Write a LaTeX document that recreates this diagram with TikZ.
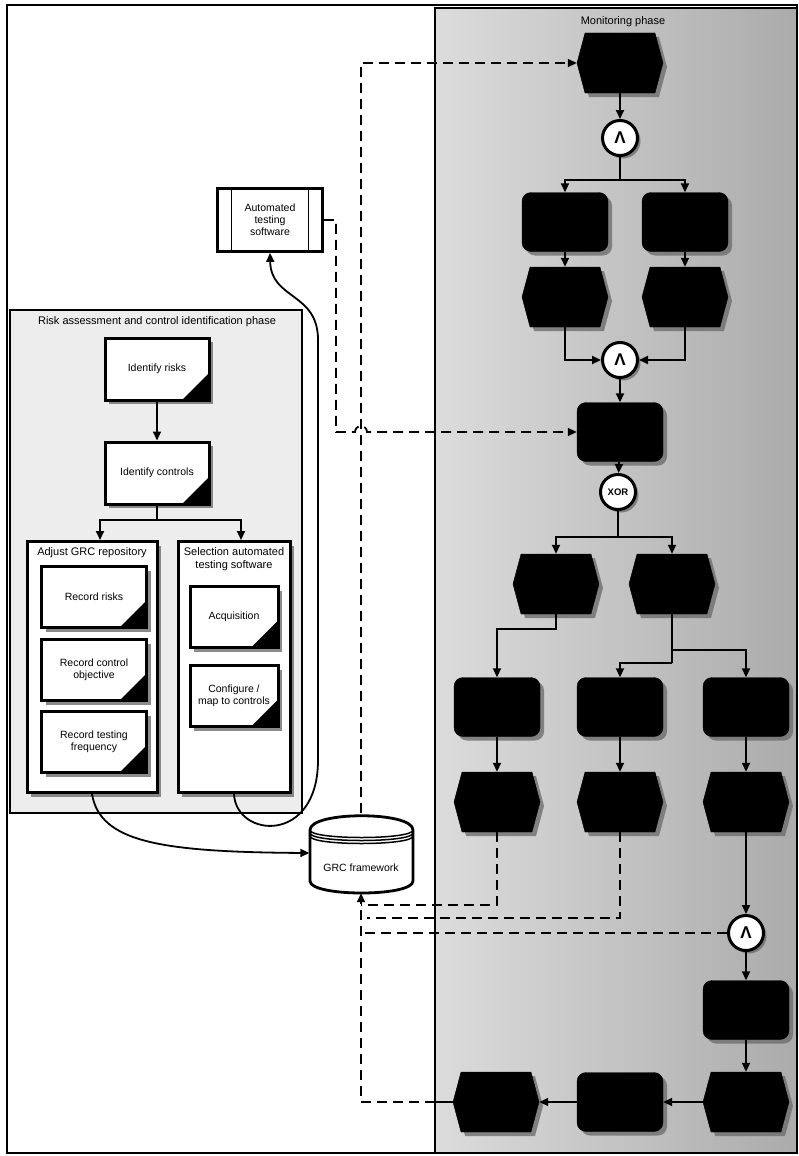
\documentclass[tikz,border=0pt]{standalone}
\usepackage{fontspec}
\setmainfont{Liberation Sans}
\usetikzlibrary{arrows.meta,shapes.symbols,shadows}
\definecolor{EpcInk}{HTML}{000000}
\definecolor{EpcShade}{HTML}{6E6E6E}
\definecolor{EpcPaper}{HTML}{FFFFFF}
\definecolor{EpcLight}{HTML}{EDEDED}
\definecolor{EpcField}{HTML}{DCDCDC}
\definecolor{EpcFieldDark}{HTML}{ABABAB}
\tikzset{
  every node/.style={font=\fontsize{10.5}{12}\selectfont, text=EpcInk, inner sep=1pt},
  frame/.style={draw=EpcInk, line width=2pt},
  phasetitle/.style={font=\fontsize{11}{13}\selectfont},
  boxtitle/.style={font=\fontsize{11}{12.5}\selectfont, align=center},
  container/.style={draw=EpcInk, line width=3pt, fill=EpcPaper,
    drop shadow={shadow xshift=4pt, shadow yshift=-4pt, fill=EpcShade, opacity=0.8}},
  task/.style={container, align=center,
    path picture={\fill[EpcInk] (path picture bounding box.south east) -- ++(-27pt,0pt) -- ++(27pt,27pt) -- cycle;}},
  software/.style={draw=EpcInk, line width=2.8pt, fill=EpcPaper, align=center,
    path picture={
      \draw[EpcInk, line width=1.8pt] ([xshift=14pt]path picture bounding box.north west) -- ([xshift=14pt]path picture bounding box.south west);
      \draw[EpcInk, line width=1.8pt] ([xshift=-14pt]path picture bounding box.north east) -- ([xshift=-14pt]path picture bounding box.south east);}},
  dbline/.style={draw=EpcInk, line width=2.8pt},
  event/.style={shape=signal, signal to=east and west, signal pointer angle=150,
    draw=EpcInk, fill=EpcInk, minimum width=86pt, minimum height=60pt,
    drop shadow={shadow xshift=4pt, shadow yshift=-4pt, fill=EpcShade, opacity=0.8}},
  func/.style={rectangle, rounded corners=9pt, draw=EpcInk, fill=EpcInk,
    minimum width=86pt, minimum height=59pt,
    drop shadow={shadow xshift=4pt, shadow yshift=-4pt, fill=EpcShade, opacity=0.8}},
  gate/.style={circle, draw=EpcInk, line width=3pt, fill=EpcPaper, minimum size=35pt, inner sep=0pt,
    drop shadow={shadow xshift=3pt, shadow yshift=-3pt, fill=EpcShade, opacity=0.8}},
  link/.style={draw=EpcInk, line width=1.8pt},
  flow/.style={link, -{Triangle[length=9pt,width=8pt]}},
  data/.style={flow, dash pattern=on 10pt off 6pt},
}
\begin{document}
\begin{tikzpicture}[x=1pt, y=-1pt]
  \useasboundingbox (0,0) rectangle (799,1156);
  % Phases
  \draw[frame] (7,5) rectangle (797,1153);
  \shade[left color=EpcField, right color=EpcFieldDark] (435,8) rectangle (797,1153);
  \draw[frame] (435,8) rectangle (797,1153);
  \node[phasetitle] (montitle) at (623,22) {Monitoring phase};
  \draw[frame, fill=EpcLight] (10,310) rectangle (302,813);
  \node[phasetitle] (risktitle) at (157,322) {Risk assessment and control identification phase};

  % Risk assessment and control identification
  \node[task, minimum width=104pt, minimum height=62pt] (idrisk) at (157,369) {Identify risks};
  \node[task, minimum width=104pt, minimum height=62pt] (idctrl) at (157,473) {Identify controls};
  \node[container, minimum width=130pt, minimum height=251pt] (adjust) at (92,667) {};
  \node[container, minimum width=112pt, minimum height=251pt] (select) at (234,667) {};
  \node[boxtitle] (adjusttitle) at (92,553) {Adjust GRC repository};
  \node[boxtitle] (selecttitle) at (234,559) {Selection automated\\testing software};
  \foreach \name/\x/\y/\w/\txt in {recrisk/94/597/105/{Record risks},
      recobj/94/670/105/{Record control\\objective}, recfreq/94/742/105/{Record testing\\frequency},
      acq/234/617/88/{Acquisition}, conf/234/696/88/{Configure /\\map to controls}}
    \node[task, minimum width=\w pt, minimum height=61pt] (\name) at (\x,\y) {\txt};
  \draw[flow] (idrisk) -- (idctrl);
  \coordinate (ctrlsplit) at (157,520);
  \draw[link] (idctrl) -- (ctrlsplit);
  \draw[flow] (ctrlsplit) -| ([xshift=8pt]adjust.north);
  \draw[flow] (ctrlsplit) -| ([xshift=7pt]select.north);

  % Software and repository
  \node[software, minimum width=105pt, minimum height=63pt] (autosw) at (270,220) {Automated\\testing\\software};
  \node[minimum width=103pt, minimum height=80pt] (grc) at (361,853) {};
  \draw[dbline, fill=EpcPaper] (310,830) .. controls (310,811) and (413,811) .. (413,830)
    -- (413,881) .. controls (413,897) and (310,897) .. (310,881) -- cycle;
  \foreach \d in {0,3,6}
    \draw[EpcInk, line width=1.5pt] (310,830+\d) .. controls (310,840+\d) and (413,840+\d) .. (413,830+\d);
  \node (grctext) at (361,868) {GRC framework};
  \draw[flow] (adjust.south) .. controls (100,842) and (160,852) .. (grc.west);
  \draw[flow] (select.south) .. controls (236,838) and (318,845) .. (318,760)
    -- (318,340) .. controls (318,292) and (271,300) .. (autosw.south);

  % Monitoring
  \foreach \name/\x/\y in {ev1/620/63, ev2a/565/297, ev2b/685/297, ev3a/556/584, ev3b/672/584,
      ev4a/497/802, ev4b/620/802, ev4c/746/802, ev5c/746/1102, ev5a/496/1102}
    \node[event] (\name) at (\x,\y) {};
  \foreach \name/\x/\y in {fn1a/565/222, fn1b/685/222, fn2/620/432, fn3a/497/707, fn3b/620/707,
      fn3c/746/707, fn4/746/1010, fn5b/620/1102}
    \node[func] (\name) at (\x,\y) {};
  \foreach \name/\x/\y in {and1/620/138, and2/620/360, and3/746/933}
    \node[gate, font=\fontsize{17}{17}\selectfont\bfseries] (\name) at (\x,\y) {Λ};
  \node[gate, font=\fontsize{9.5}{10}\selectfont\bfseries] (xor) at (618,492) {XOR};

  \draw[flow] (ev1) -- (and1);
  \coordinate (split1) at (620,180);
  \draw[link] (and1) -- (split1);
  \draw[flow] (split1) -| (fn1a);
  \draw[flow] (split1) -| (fn1b);
  \draw[flow] (fn1a) -- (ev2a);
  \draw[flow] (fn1b) -- (ev2b);
  \draw[flow] (ev2a) |- (and2);
  \draw[flow] (ev2b) |- (and2);
  \draw[flow] (and2) -- (fn2);
  \draw[flow] (fn2) -- (xor);
  \coordinate (split2) at (618,537);
  \draw[link] (xor) -- (split2);
  \draw[flow] (split2) -| (ev3a);
  \draw[flow] (split2) -| (ev3b);
  \draw[flow] (ev3a.south) -- ++(0,15) -| (fn3a);
  \coordinate (split3) at (672,663);
  \draw[link] (ev3b) -- (split3);
  \draw[flow] (split3) -| (fn3b);
  \draw[flow] (672,650) -| (fn3c);
  \draw[flow] (fn3a) -- (ev4a);
  \draw[flow] (fn3b) -- (ev4b);
  \draw[flow] (fn3c) -- (ev4c);
  \draw[flow] (ev4c) -- (and3);
  \draw[flow] (and3) -- (fn4);
  \draw[flow] (fn4) -- (ev5c);
  \draw[flow] (ev5c) -- (fn5b);
  \draw[flow] (fn5b) -- (ev5a);

  % Data exchange with the repository
  \coordinate (topbend) at (361,63);
  \draw[data] (grc.north) -- (topbend) -- (ev1.west);
  \draw[data] (autosw.east) -- (336,220) -- (336,432) -- (355,432) arc (180:0:6pt) -- (fn2.west);
  \coordinate (backbend) at (361,1102);
  \draw[link] (ev5a.west) -- (435,1102);
  \draw[data] (435,1102) -- (backbend) -- (grc.south);
  \draw[data, -] (ev4a.south) |- (361,905);
  \draw[data, -] (ev4b.south) |- (367,918);
  \draw[data, -] (and3.west) -- (361,933);
\end{tikzpicture}
\end{document}
